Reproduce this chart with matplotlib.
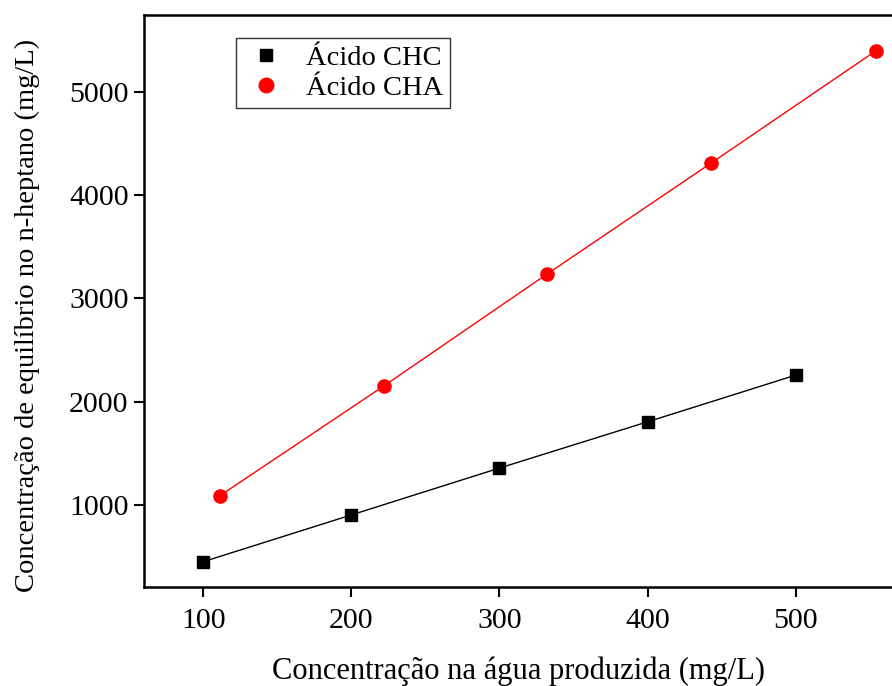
import matplotlib.pyplot as plt

plt.rcParams['font.family'] = ['Liberation Serif', 'DejaVu Serif']

# dados
x_chc = [100, 200, 300, 400, 500]
y_chc = [450, 903, 1357, 1805, 2257]
x_cha = [111, 222, 332, 443, 554]
y_cha = [1087, 2153, 3235, 4312, 5397]

fig = plt.figure(figsize=(8.92, 6.86), dpi=100)
ax = fig.add_axes([144 / 892, 1 - 587 / 686, 1 - 144 / 892, (587 - 15) / 686])

ax.plot(x_chc, y_chc, color="black", lw=1, marker="s", ms=8.5, label="Ácido CHC")
ax.plot(x_cha, y_cha, color="red", lw=1, marker="o", ms=9.5, label="Ácido CHA")

ax.set_xlim(60, 565)
ax.set_ylim(205, 5745)
ax.set_xticks([100, 200, 300, 400, 500])
ax.set_yticks([1000, 2000, 3000, 4000, 5000])
ax.tick_params(direction="out", length=7, width=1.5, labelsize=21.5)
ax.tick_params(axis="x", pad=8)
ax.tick_params(axis="y", pad=4)
for s in ["left", "bottom", "top"]:
    ax.spines[s].set_linewidth(1.8)
ax.spines["right"].set_visible(False)

ax.set_xlabel("Concentração na água produzida (mg/L)", fontsize=22, labelpad=16)
ax.set_ylabel("Concentração de equilíbrio no n-heptano (mg/L)", fontsize=20.5)
ax.yaxis.set_label_coords(-0.139, 0.474)

leg = ax.legend(loc="upper left", bbox_to_anchor=(0.104, 0.985), fontsize=20.5,
                frameon=True, fancybox=False, edgecolor="black", handlelength=1.6,
                handletextpad=0.6, borderpad=0.25, labelspacing=0.15, markerscale=1.1)
for h in leg.get_lines():
    h.set_linestyle("none")
leg.get_frame().set_linewidth(1)

fig.savefig("out.png", dpi=100)
